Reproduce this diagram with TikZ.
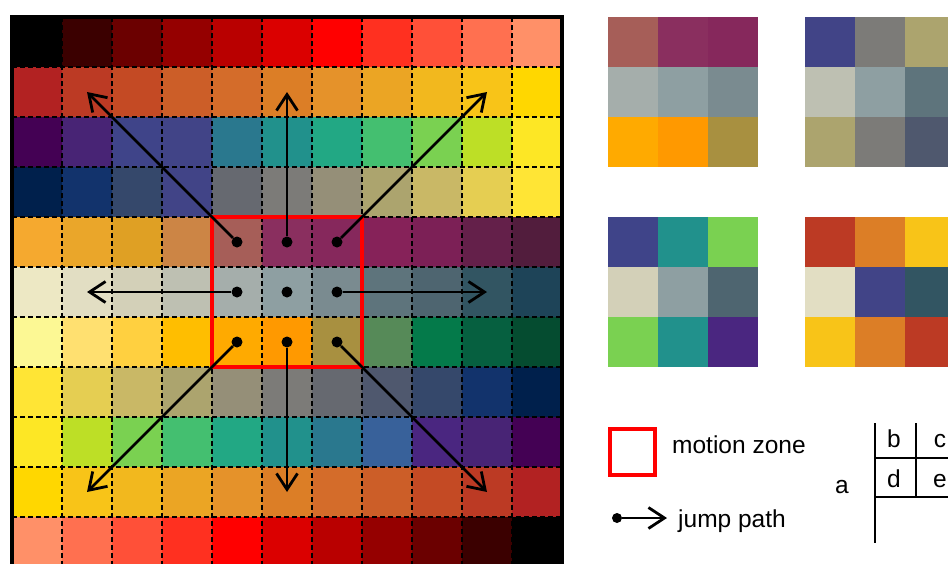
\documentclass[tikz,border=0pt]{standalone}
\usepackage{fontspec}
\setmainfont{Liberation Sans}
\usetikzlibrary{arrows.meta}

% hot ramp
\definecolor{h0}{HTML}{000000}\definecolor{h1}{HTML}{3B0000}\definecolor{h2}{HTML}{6B0000}
\definecolor{h3}{HTML}{950000}\definecolor{h4}{HTML}{B90000}\definecolor{h5}{HTML}{DB0000}
\definecolor{h6}{HTML}{FF0000}\definecolor{h7}{HTML}{FF3020}\definecolor{h8}{HTML}{FF5038}
\definecolor{h9}{HTML}{FF7050}\definecolor{h10}{HTML}{FF9068}
% orange ramp
\definecolor{o0}{HTML}{B22222}\definecolor{o1}{HTML}{BC3A24}\definecolor{o2}{HTML}{C44A24}
\definecolor{o3}{HTML}{CC5E28}\definecolor{o4}{HTML}{D46C2A}\definecolor{o5}{HTML}{DC7E26}
\definecolor{o6}{HTML}{E5922A}\definecolor{o7}{HTML}{EBA524}\definecolor{o8}{HTML}{F2B81E}
\definecolor{o9}{HTML}{F8C418}\definecolor{o10}{HTML}{FFD700}
% viridis ramp
\definecolor{v0}{HTML}{440154}\definecolor{v1}{HTML}{482475}\definecolor{v2}{HTML}{3F4489}
\definecolor{v3}{HTML}{414487}\definecolor{v4}{HTML}{2A788E}\definecolor{v5}{HTML}{21918C}
\definecolor{v6}{HTML}{22A884}\definecolor{v7}{HTML}{44BF70}\definecolor{v8}{HTML}{7AD151}
\definecolor{v9}{HTML}{BDDF26}\definecolor{v10}{HTML}{FDE725}
\definecolor{w7}{HTML}{38619A}\definecolor{w8}{HTML}{4A2680}
% cividis ramp
\definecolor{c0}{HTML}{00204C}\definecolor{c1}{HTML}{12336C}\definecolor{c2}{HTML}{35486B}
\definecolor{c3}{HTML}{414487}\definecolor{c4}{HTML}{666970}\definecolor{c5}{HTML}{7C7B78}
\definecolor{c6}{HTML}{958F78}\definecolor{c7}{HTML}{ACA46E}\definecolor{c8}{HTML}{C9B866}
\definecolor{c9}{HTML}{E5CE52}\definecolor{c10}{HTML}{FFE535}
\definecolor{k7}{HTML}{4F586E}
% magenta row
\definecolor{m0}{HTML}{F5A92F}\definecolor{m1}{HTML}{EAA62A}\definecolor{m2}{HTML}{DFA024}
\definecolor{m3}{HTML}{CC8545}\definecolor{m4}{HTML}{A65E58}\definecolor{m5}{HTML}{8A2F5F}
\definecolor{m6}{HTML}{86285C}\definecolor{m7}{HTML}{862259}\definecolor{m8}{HTML}{7C2056}
\definecolor{m9}{HTML}{64204A}\definecolor{m10}{HTML}{521D3D}
% grey row
\definecolor{g0}{HTML}{EDE8C4}\definecolor{g1}{HTML}{E2DEC3}\definecolor{g2}{HTML}{D3D0B8}
\definecolor{g3}{HTML}{BEC0B2}\definecolor{g4}{HTML}{A5AEAB}\definecolor{g5}{HTML}{8E9FA2}
\definecolor{g6}{HTML}{7A8B90}\definecolor{g7}{HTML}{5E747C}\definecolor{g8}{HTML}{4E6570}
\definecolor{g9}{HTML}{325562}\definecolor{g10}{HTML}{1E4458}
% yellow-green row
\definecolor{y0}{HTML}{FCF894}\definecolor{y1}{HTML}{FFE070}\definecolor{y2}{HTML}{FFD040}
\definecolor{y3}{HTML}{FFBE00}\definecolor{y4}{HTML}{FFAA00}\definecolor{y5}{HTML}{FF9900}
\definecolor{y6}{HTML}{A89040}\definecolor{y7}{HTML}{568A58}\definecolor{y8}{HTML}{047A4A}
\definecolor{y9}{HTML}{066040}\definecolor{y10}{HTML}{054C30}

% fill a 3x3 patch of 50pt cells from a list of rows
\newcommand{\patch}[3]{%
  \foreach \rowcols [count=\r from 0] in {#3} {
    \foreach \cc [count=\c from 0] in \rowcols {
      \fill[\cc] (#1+50*\c,#2+50*\r) rectangle ++(50,50);
    }
  }%
}

\begin{document}
\begin{tikzpicture}[x=1pt,y=-1pt,
  jump/.style={line width=2.8pt,-{Straight Barb[length=16pt,width=21pt]}},
  dot/.style={circle,fill=black,inner sep=0pt,minimum size=11pt},
  cellgrid/.style={black,line width=1.9pt,dash pattern=on 5pt off 3pt},
  zone/.style={draw=red,line width=3.4pt},
  tableline/.style={black,line width=2.2pt},
  lbl/.style={font=\fontsize{24.5}{28}\selectfont,inner sep=0pt}
]
\useasboundingbox (0,0) rectangle (948,563);
\clip (0,0) rectangle (948,563);

% main 11x11 field
\foreach \rowcols [count=\r from 0] in {
  {h0,h1,h2,h3,h4,h5,h6,h7,h8,h9,h10},
  {o0,o1,o2,o3,o4,o5,o6,o7,o8,o9,o10},
  {v0,v1,v2,v3,v4,v5,v6,v7,v8,v9,v10},
  {c0,c1,c2,c3,c4,c5,c6,c7,c8,c9,c10},
  {m0,m1,m2,m3,m4,m5,m6,m7,m8,m9,m10},
  {g0,g1,g2,g3,g4,g5,g6,g7,g8,g9,g10},
  {y0,y1,y2,y3,y4,y5,y6,y7,y8,y9,y10},
  {c10,c9,c8,c7,c6,c5,c4,k7,c2,c1,c0},
  {v10,v9,v8,v7,v6,v5,v4,w7,w8,v1,v0},
  {o10,o9,o8,o7,o6,o5,o4,o3,o2,o1,o0},
  {h10,h9,h8,h7,h6,h5,h4,h3,h2,h1,h0}}
{
  \foreach \cc [count=\c from 0] in \rowcols {
    \fill[\cc] (12+50*\c,17+50*\r) rectangle ++(50,50);
    \coordinate (p-\r-\c) at (37+50*\c,42+50*\r);
  }
}

% dashed cell borders
\foreach \i in {1,...,10} {
  \draw[cellgrid] (12+50*\i,17) -- ++(0,550);
  \draw[cellgrid] (12,17+50*\i) -- ++(550,0);
}
\draw[black,line width=3.8pt] (12,17) rectangle (562,567);

% motion zone
\draw[zone] (212,217) rectangle (362,367);

% sample points and jump paths
\foreach \r in {4,5,6} {
  \foreach \c in {4,5,6} {
    \node[dot] (d-\r-\c) at (p-\r-\c) {};
  }
}
\draw[jump] (d-4-4) -- (p-1-1);
\draw[jump] (d-4-5) -- (p-1-5);
\draw[jump] (d-4-6) -- (p-1-9);
\draw[jump] (d-5-4) -- (p-5-1);
\draw[jump] (d-5-6) -- (p-5-9);
\draw[jump] (d-6-4) -- (p-9-1);
\draw[jump] (d-6-5) -- (p-9-5);
\draw[jump] (d-6-6) -- (p-9-9);

% sampled 3x3 patches
\patch{608}{17}{{m4,m5,m6},{g4,g5,g6},{y4,y5,y6}}
\patch{805}{17}{{c3,c5,c7},{g3,g5,g7},{c7,c5,k7}}
\patch{608}{217}{{v2,v5,v8},{g2,g5,g8},{v8,v5,w8}}
\patch{805}{217}{{o1,o5,o9},{g1,v3,g9},{o9,o5,o1}}

% legend
\node[zone,minimum width=45pt,minimum height=46pt,inner sep=0pt] (zonekey) at (632.5,452) {};
\node[lbl,anchor=base west] (zonetext) at (672,453) {motion zone};
\node[dot,minimum size=10pt] (keydot) at (617,518) {};
\coordinate (keytip) at (667,518);
\draw[jump] (keydot) -- (keytip);
\node[lbl,anchor=base west] (jumptext) at (678,527) {jump path};

% small table
\coordinate (t0) at (875,423);
\coordinate (t1) at (875,543);
\coordinate (t2) at (916,423);
\coordinate (t3) at (916,497);
\coordinate (t4) at (875,458);
\coordinate (t5) at (960,458);
\coordinate (t6) at (875,497);
\coordinate (t7) at (960,497);
\draw[tableline] (t0) -- (t1);
\draw[tableline] (t2) -- (t3);
\draw[tableline] (t4) -- (t5);
\draw[tableline] (t6) -- (t7);
\node[lbl,anchor=base west] (ta) at (835,493) {a};
\node[lbl,anchor=base] (tb) at (894,447) {b};
\node[lbl,anchor=base] (tc) at (940,447) {c};
\node[lbl,anchor=base] (td) at (894,487) {d};
\node[lbl,anchor=base] (te) at (940,487) {e};
\end{tikzpicture}
\end{document}
